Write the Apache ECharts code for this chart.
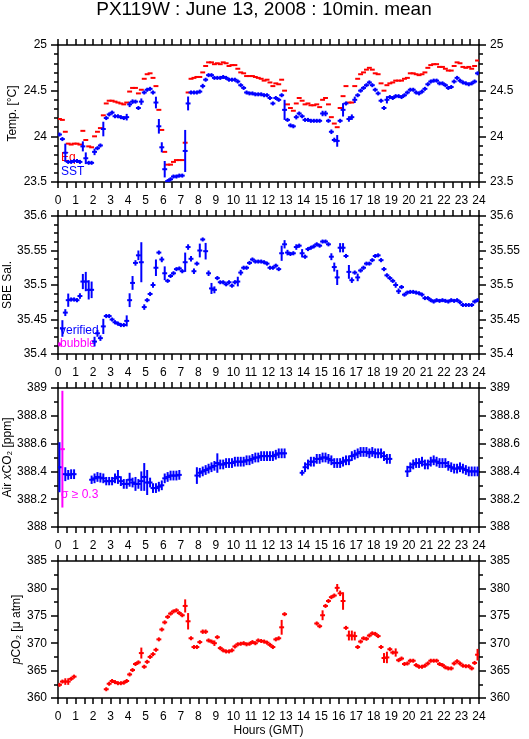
<!DOCTYPE html>
<html><head><meta charset="utf-8">
<script src="https://cdn.jsdelivr.net/npm/echarts@6/dist/echarts.min.js"></script>
<style>html,body{margin:0;padding:0;background:#fff}#c{width:529px;height:739px}</style>
</head><body><div id="c"></div>
<script>
// ---- data (10-minute bins, 144 per day) ----
const titleText = 'PX119W : June 13, 2008 : 10min. mean';
const hourTicks = [0,1,2,3,4,5,6,7,8,9,10,11,12,13,14,15,16,17,18,19,20,21,22,23,24];

const sstVal = [24.02,23.97,23.82,23.72,23.72,23.73,23.73,23.72,23.89,23.76,
23.71,23.71,23.83,23.87,23.90,24.08,24.20,24.24,24.26,24.22,
24.22,24.21,24.20,24.21,24.35,24.38,24.38,24.31,24.38,24.48,
24.51,24.52,24.48,24.37,24.11,23.88,23.64,23.51,23.53,23.56,
23.56,23.57,23.57,23.84,24.36,24.48,24.48,24.48,24.49,24.55,
24.62,24.67,24.67,24.64,24.64,24.64,24.65,24.64,24.62,24.62,
24.62,24.60,24.56,24.53,24.48,24.47,24.47,24.46,24.46,24.46,
24.45,24.45,24.42,24.36,24.42,24.40,24.45,24.29,24.18,24.12,
24.11,24.21,24.25,24.22,24.18,24.18,24.17,24.17,24.17,24.17,
24.25,24.25,24.17,24.05,23.96,23.95,24.17,24.29,24.36,24.19,
24.21,24.40,24.45,24.50,24.53,24.56,24.59,24.56,24.51,24.47,
24.39,24.31,24.40,24.43,24.42,24.44,24.44,24.43,24.45,24.48,
24.51,24.51,24.48,24.47,24.49,24.52,24.57,24.60,24.61,24.61,
24.58,24.58,24.56,24.53,24.54,24.60,24.64,24.61,24.59,24.58,
24.57,24.58,24.60,24.69];
const sstErr = [0.012,0.012,0.10,0.012,0.012,0.012,0.012,0.012,0.055,0.064,
0.012,0.012,0.036,0.015,0.015,0.08,0.012,0.012,0.012,0.012,
0.012,0.012,0.012,0.036,0.03,0.025,0.02,0.02,0.035,0.015,
0.015,0.015,0.015,0.064,0.08,0.055,0.09,0.012,0.012,0.012,
0.012,0.012,0.012,0.23,0.076,0.012,0.012,0.012,0.012,0.025,
0.012,0.012,0.012,0.012,0.012,0.012,0.012,0.012,0.012,0.012,
0.012,0.012,0.012,0.012,0.012,0.012,0.012,0.012,0.012,0.012,
0.012,0.012,0.012,0.012,0.012,0.012,0.012,0.11,0.02,0.02,
0.02,0.025,0.02,0.012,0.012,0.012,0.012,0.012,0.012,0.012,
0.03,0.03,0.015,0.025,0.025,0.064,0.02,0.073,0.012,0.03,
0.03,0.035,0.015,0.012,0.012,0.012,0.012,0.012,0.012,0.012,
0.012,0.02,0.04,0.012,0.012,0.012,0.012,0.012,0.012,0.012,
0.012,0.012,0.012,0.012,0.012,0.012,0.012,0.012,0.012,0.012,
0.012,0.012,0.012,0.012,0.012,0.012,0.02,0.012,0.012,0.012,
0.012,0.012,0.012,0.02];
const eqVal = [24.19,24.18,24.05,23.92,23.91,23.92,23.92,23.91,24.06,23.96,
23.89,23.88,24.00,24.05,24.09,24.23,24.36,24.39,24.39,24.38,
24.37,24.36,24.35,24.37,24.49,24.53,24.53,24.47,24.51,24.63,
24.68,24.69,24.64,24.55,24.29,24.07,23.83,23.69,23.69,23.72,
23.74,23.74,23.74,23.93,24.48,24.63,24.64,24.65,24.65,24.70,
24.77,24.81,24.81,24.79,24.80,24.79,24.81,24.80,24.77,24.78,
24.78,24.74,24.70,24.69,24.66,24.66,24.66,24.65,24.64,24.63,
24.61,24.62,24.59,24.55,24.58,24.57,24.62,24.50,24.35,24.31,
24.28,24.36,24.42,24.39,24.35,24.36,24.34,24.34,24.35,24.32,
24.40,24.42,24.35,24.21,24.14,24.10,24.31,24.44,24.55,24.37,
24.37,24.55,24.63,24.68,24.70,24.73,24.75,24.73,24.69,24.68,
24.58,24.50,24.56,24.58,24.59,24.61,24.61,24.61,24.63,24.64,
24.69,24.69,24.68,24.67,24.68,24.70,24.75,24.78,24.79,24.79,
24.76,24.76,24.74,24.72,24.72,24.77,24.81,24.80,24.76,24.75,
24.76,24.74,24.77,24.83];

const salVal = [null,35.437,35.46,35.478,35.479,35.479,35.478,35.484,35.505,35.505,
35.493,35.493,35.418,35.43,35.423,35.44,35.455,35.455,35.45,35.446,
35.444,35.442,35.442,35.448,35.478,35.503,35.532,35.543,35.533,35.468,
35.478,35.487,35.5,35.525,35.547,35.537,35.517,35.506,35.513,35.517,
35.523,35.524,35.52,35.533,35.555,35.538,35.52,35.531,35.55,35.566,
35.549,35.517,35.495,35.493,35.51,35.504,35.504,35.501,35.504,35.499,
35.504,35.505,35.518,35.525,35.525,35.532,35.537,35.534,35.534,35.534,
35.533,35.531,35.525,35.525,35.528,35.523,35.546,35.559,35.547,35.545,
35.546,35.555,35.557,35.546,35.541,35.552,35.554,35.556,35.559,35.557,
35.563,35.563,35.559,35.541,35.526,35.511,35.554,35.554,35.542,35.519,
35.507,35.518,35.511,35.521,35.525,35.531,35.531,35.536,35.542,35.543,
35.536,35.523,35.514,35.51,35.506,35.5,35.491,35.497,35.486,35.489,
35.49,35.49,35.489,35.488,35.486,35.481,35.481,35.478,35.476,35.478,
35.477,35.478,35.477,35.476,35.478,35.477,35.478,35.475,35.471,35.471,
35.471,35.471,35.476,35.478];
const salErr = [0.002,0.012,0.005,0.0096,0.003,0.003,0.003,0.004,0.011,0.014,
0.014,0.012,0.007,0.005,0.004,0.011,0.003,0.002,0.002,0.003,
0.003,0.003,0.003,0.008,0.01,0.01,0.004,0.007,0.029,0.004,
0.003,0.003,0.004,0.012,0.003,0.004,0.01,0.002,0.002,0.003,
0.002,0.002,0.003,0.014,0.004,0.004,0.004,0.003,0.01,0.002,
0.012,0.004,0.008,0.005,0.003,0.002,0.002,0.002,0.002,0.002,
0.003,0.007,0.004,0.003,0.003,0.002,0.002,0.002,0.002,0.002,
0.002,0.002,0.002,0.002,0.002,0.002,0.011,0.006,0.004,0.003,
0.003,0.004,0.003,0.006,0.003,0.002,0.002,0.002,0.002,0.002,
0.002,0.002,0.003,0.005,0.0065,0.011,0.0067,0.0067,0.003,0.01,
0.004,0.003,0.0055,0.003,0.003,0.002,0.002,0.002,0.002,0.002,
0.003,0.003,0.003,0.003,0.003,0.004,0.004,0.003,0.002,0.002,
0.002,0.002,0.002,0.002,0.002,0.002,0.002,0.002,0.002,0.002,
0.002,0.002,0.002,0.002,0.002,0.002,0.002,0.002,0.002,0.002,
0.002,0.002,0.002,0.002];
const bubbleBin = [0];
const bubbleVal = [35.414];
const bubbleErr = [0.003];

const airVal = [388.43,388.56,388.38,388.375,388.38,388.38,null,null,null,null,
null,388.34,388.35,388.36,388.355,388.35,388.33,388.33,388.33,388.35,
388.36,388.33,388.31,388.31,388.34,388.32,388.31,388.31,388.33,388.36,
388.32,388.32,388.28,388.28,388.29,388.30,388.35,388.36,388.37,388.37,
388.37,388.375,null,null,null,null,null,388.37,388.39,388.40,
388.41,388.42,388.43,388.44,388.46,388.45,388.45,388.46,388.46,388.46,
388.47,388.47,388.47,388.47,388.48,388.48,388.49,388.50,388.50,388.51,
388.51,388.51,388.51,388.51,388.52,388.53,388.53,388.53,null,null,
null,null,null,388.39,388.43,388.45,388.47,388.47,388.49,388.49,
388.50,388.50,388.49,388.48,388.46,388.46,388.46,388.47,388.48,388.48,
388.51,388.52,388.53,388.54,388.54,388.54,388.53,388.54,388.53,388.53,
388.53,388.51,388.49,388.49,null,null,null,null,null,388.40,
388.43,388.45,388.46,388.46,388.47,388.45,388.45,388.47,388.48,388.47,
388.46,388.46,388.46,388.44,388.43,388.42,388.42,388.43,388.42,388.41,
388.40,388.40,388.40,388.40];
const airErr = [0.18,0.42,0.05,0.035,0.035,0.035,0,0,0,0,
0,0.03,0.035,0.035,0.035,0.035,0.03,0.03,0.03,0.035,
0.05,0.035,0.035,0.035,0.05,0.035,0.05,0.035,0.07,0.1,
0.09,0.035,0.035,0.035,0.035,0.035,0.035,0.035,0.035,0.035,
0.035,0.035,0,0,0,0,0,0.06,0.035,0.035,
0.035,0.035,0.035,0.035,0.07,0.035,0.035,0.035,0.035,0.035,
0.035,0.035,0.035,0.035,0.035,0.035,0.035,0.035,0.035,0.035,
0.035,0.035,0.035,0.035,0.035,0.035,0.035,0.035,0,0,
0,0,0,0.02,0.035,0.035,0.035,0.035,0.035,0.035,
0.035,0.035,0.035,0.035,0.035,0.035,0.035,0.035,0.035,0.035,
0.035,0.035,0.035,0.035,0.035,0.035,0.035,0.035,0.035,0.035,
0.035,0.035,0.035,0.035,0,0,0,0,0,0.04,
0.035,0.035,0.035,0.035,0.035,0.035,0.035,0.035,0.035,0.035,
0.035,0.035,0.035,0.035,0.035,0.035,0.035,0.035,0.035,0.035,
0.035,0.035,0.035,0.035];

const pco2Val = [362.4,363.0,363.0,363.0,363.5,363.9,null,null,null,null,
null,null,null,null,null,null,361.6,362.6,363.1,362.9,
362.7,362.7,362.8,363.1,364.3,365.1,366.2,366.5,368.2,365.7,
366.6,367.5,368.0,368.8,370.7,372.5,373.8,374.8,375.4,375.8,
376.0,375.5,375.1,376.8,374.0,370.9,369.3,369.3,370.2,372.1,
372.1,370.5,370.3,370.0,371.1,369.1,368.7,368.5,368.5,368.7,
369.4,369.8,369.9,370.0,369.8,369.9,370.2,370.0,370.5,370.4,
370.3,370.1,369.7,369.3,370.7,370.9,372.9,375.3,null,null,
null,null,null,null,null,null,null,null,373.6,373.1,
375.1,376.8,377.7,378.4,378.7,380.1,379.1,377.7,372.8,371.4,
371.4,371.3,369.3,370.3,370.9,370.8,371.4,371.8,371.7,371.3,
369.3,367.3,367.4,368.9,368.3,368.3,366.9,367.2,366.2,366.3,
366.8,366.8,366.0,365.7,365.7,365.9,366.3,366.8,366.8,366.8,
366.2,366.0,365.6,365.4,365.4,366.3,366.7,366.3,365.9,365.8,
365.8,365.4,366.4,367.9];
const pco2Err = [0.25,0.25,0.6,0.6,0.25,0.25,0,0,0,0,
0,0,0,0,0,0,0.25,0.25,0.25,0.25,
0.25,0.25,0.25,0.25,0.25,0.25,0.25,0.25,1.0,0.25,
0.25,0.25,0.25,0.25,0.25,0.25,0.25,0.25,0.25,0.25,
0.25,0.25,0.25,1.2,1.5,0.25,0.25,0.25,0.25,0.4,
0.4,0.25,0.25,0.5,0.25,0.25,0.25,0.25,0.25,0.25,
0.25,0.25,0.25,0.25,0.25,0.25,0.25,0.25,0.25,0.25,
0.25,0.25,0.25,0.25,0.25,0.25,1.35,0.25,0,0,
0,0,0,0,0,0,0,0,0.25,0.25,
0.9,0.25,0.25,0.25,0.25,0.7,0.5,1.6,0.25,0.9,
0.9,0.8,0.25,0.25,0.25,0.25,0.25,0.25,0.25,0.25,
0.25,0.9,1.05,0.25,0.25,0.75,0.25,0.25,0.25,0.25,
0.25,0.25,0.25,0.25,0.25,0.25,0.25,0.25,0.25,0.25,
0.25,0.25,0.25,0.25,0.25,0.25,0.25,0.25,0.25,0.25,
0.25,0.25,0.25,1.06];

// ---- drawing ----
const FONT = '"Liberation Sans", Arial, Helvetica, sans-serif';
const BIN = 1 / 6;
const BLUE = '#0000ff', RED = '#ff0000', MAG = '#ff00ff';
function binTime(i) { return (i + 0.5) * BIN; }
function toData(vals, errs) {
  const out = [];
  vals.forEach((v, i) => { if (v !== null && v !== undefined) out.push([binTime(i), v, errs ? errs[i] : 0]); });
  return out;
}
function makeRender(color, withV, flagColor, flagMin) {
  return function (params, api) {
    const t = api.value(0), v = api.value(1), e = api.value(2);
    const cs = params.coordSys;
    const top = cs.y, bot = cs.y + cs.height, left = cs.x, right = cs.x + cs.width;
    const c = (flagColor && e >= flagMin) ? flagColor : color;
    const pl = api.coord([t - BIN / 2, v]), pr = api.coord([t + BIN / 2, v]);
    const ch = [];
    const x1 = Math.max(left + 1, pl[0]), x2 = Math.min(right - 1, pr[0]);
    if (pl[1] >= top && pl[1] <= bot) ch.push({ type: 'line', shape: { x1: x1, y1: pl[1], x2: x2, y2: pl[1] }, style: { stroke: c, lineWidth: 2, lineCap: 'square' } });
    if (withV) {
      const pc = api.coord([t, v]);
      let yt = api.coord([t, v + e])[1], yb = api.coord([t, v - e])[1];
      if (pc[1] - yt < 2) yt = pc[1] - 2;
      if (yb - pc[1] < 2) yb = pc[1] + 2;
      yt = Math.max(top, yt); yb = Math.min(bot, yb);
      if (yb > yt) ch.push({ type: 'line', shape: { x1: pc[0], y1: yt, x2: pc[0], y2: yb }, style: { stroke: c, lineWidth: 2 } });
    }
    return { type: 'group', children: ch };
  };
}

const grids = [
  { left: 58, width: 421, top: 45, height: 137, outerBoundsMode: 'none', containLabel: false },
  { left: 58, width: 421, top: 216, height: 138, outerBoundsMode: 'none', containLabel: false },
  { left: 58, width: 421, top: 388, height: 139, outerBoundsMode: 'none', containLabel: false },
  { left: 58, width: 421, top: 561, height: 137, outerBoundsMode: 'none', containLabel: false }
];
const AX = { color: '#000', width: 1.5 };
const lbl = { fontSize: 12, color: '#000', fontFamily: FONT };
function fmt(v) { return String(parseFloat((+v).toFixed(3))); }

const xAxes = [], yAxes = [];
grids.forEach((g, gi) => {
  const base = {
    gridIndex: gi, type: 'value', min: 0, max: 24, interval: 1,
    axisLine: { show: true, onZero: false, lineStyle: AX },
    axisTick: { show: true, length: 6, lineStyle: AX },
    minorTick: { show: true, splitNumber: 2, length: 6, lineStyle: AX },
    splitLine: { show: false }, minorSplitLine: { show: false }
  };
  xAxes.push(Object.assign({}, base, {
    position: 'bottom',
    axisLabel: Object.assign({ margin: 13, showMinLabel: true, showMaxLabel: true, formatter: v => String(hourTicks[Math.round(v)]) }, lbl),
    name: gi === 3 ? 'Hours (GMT)' : '', nameLocation: 'middle', nameGap: 27, nameMoveOverlap: false,
    nameTextStyle: { fontSize: 12, color: '#000', fontFamily: FONT }
  }));
  xAxes.push(Object.assign({}, base, { position: 'top', axisLabel: { show: false } }));
});

const yDefs = [
  { min: 23.5, max: 25, interval: 0.5, minor: 5, name: 'Temp. [°C]', gap: 39 },
  { min: 35.4, max: 35.6, interval: 0.05, minor: 4, name: 'SBE Sal.', gap: 44 },
  { min: 388, max: 389, interval: 0.2, minor: 2, name: 'Air {i|x}CO₂ [ppm]', gap: 44 },
  { min: 360, max: 385, interval: 5, minor: 2, name: '{i|p}CO₂ [μ atm]', gap: 35 }
];
yDefs.forEach((d, gi) => {
  const base = {
    gridIndex: gi, type: 'value', min: d.min, max: d.max, interval: d.interval,
    axisLine: { show: true, onZero: false, lineStyle: AX },
    axisTick: { show: true, length: 7, lineStyle: AX },
    minorTick: { show: true, splitNumber: d.minor, length: 4, lineStyle: AX },
    splitLine: { show: false }, minorSplitLine: { show: false }
  };
  yAxes.push(Object.assign({}, base, {
    position: 'left',
    axisLabel: Object.assign({ margin: 11, formatter: fmt, showMinLabel: true, showMaxLabel: true }, lbl),
    name: d.name, nameLocation: 'middle', nameGap: d.gap, nameRotate: 90, nameMoveOverlap: false,
    nameTextStyle: { fontSize: 12, color: '#000', fontFamily: FONT,
      rich: { i: { fontSize: 12, fontStyle: 'italic', color: '#000', fontFamily: FONT } } }
  }));
  yAxes.push(Object.assign({}, base, {
    position: 'right',
    axisLabel: Object.assign({ margin: 11, formatter: fmt, showMinLabel: true, showMaxLabel: true }, lbl)
  }));
});

function cs(gi, name, data, render) {
  return { type: 'custom', name: name, xAxisIndex: gi * 2, yAxisIndex: gi * 2,
    data: data, renderItem: render, encode: { x: 0, y: 1 }, animation: false, silent: true };
}

const series = [
  cs(0, 'Eq', toData(eqVal, null), makeRender(RED, false)),
  cs(0, 'SST', toData(sstVal, sstErr), makeRender(BLUE, true)),
  cs(1, 'verified', toData(salVal, salErr), makeRender(BLUE, true)),
  cs(1, 'bubble', bubbleBin.map((b, k) => [binTime(b), bubbleVal[k], bubbleErr[k]]), makeRender(MAG, true)),
  cs(2, 'Air xCO2', toData(airVal, airErr), makeRender(BLUE, true, MAG, 0.3)),
  cs(3, 'pCO2', toData(pco2Val, pco2Err), makeRender(RED, true))
];

const txt = (x, y, s, color) => ({ type: 'text', x: x, y: y, silent: true,
  style: { text: s, fill: color, font: '12px ' + FONT, textVerticalAlign: 'middle', verticalAlign: 'middle' } });

const chart = echarts.init(document.getElementById('c'), null, { renderer: 'canvas' });
chart.setOption({
  backgroundColor: '#fff',
  animation: false,
  grid: grids,
  xAxis: xAxes,
  yAxis: yAxes,
  series: series,
  graphic: [
    { type: 'text', x: 264, y: 10, silent: true,
      style: { text: titleText, fill: '#000', font: '19px ' + FONT, textAlign: 'center', align: 'center', verticalAlign: 'middle', textVerticalAlign: 'middle' } },
    txt(61, 158, 'Eq', RED),
    txt(61, 172, 'SST', BLUE),
    txt(60, 331, 'verified', BLUE),
    txt(60, 344, 'bubble', MAG),
    txt(61, 495, 'σ ≥ 0.3', MAG)
  ]
});
</script>
</body></html>
